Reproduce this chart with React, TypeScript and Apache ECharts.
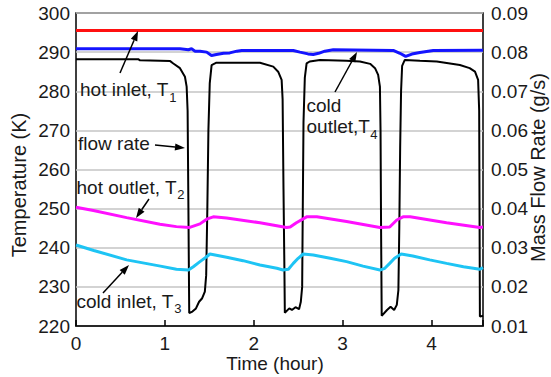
import React, { useEffect, useRef } from "react";
import * as echarts from "echarts";

// Time (hour), value pairs
const hotInletT1: [number, number][] = [[0, 295.5], [4.58, 295.5]];

const coldOutletT4: [number, number][] = [
  [0, 290.85], [1.17, 290.85], [1.265, 290.6], [1.3, 290.85], [1.34, 290.25], [1.395, 290.25],
  [1.47, 290.0], [1.525, 289.15], [1.58, 289.4], [1.66, 289.7], [1.73, 289.8], [1.81, 290.25],
  [1.865, 290.43], [2.445, 290.43], [2.52, 290.0], [2.61, 289.55], [2.67, 289.4], [2.73, 289.7],
  [2.8, 290.25], [2.895, 290.6], [3.57, 290.43], [3.645, 289.7], [3.71, 288.9], [3.78, 289.5],
  [3.87, 289.9], [4.02, 290.4], [4.58, 290.5],
];

const hotOutletT2: [number, number][] = [
  [0, 250.35], [0.195, 249.5], [0.57, 247.7], [0.945, 246.0], [1.13, 245.4], [1.28, 245.2],
  [1.395, 246.1], [1.47, 247.3], [1.545, 247.9], [1.695, 247.6], [2.07, 246.4], [2.37, 245.2],
  [2.41, 245.3], [2.48, 246.4], [2.595, 247.9], [2.71, 247.9], [3.045, 246.7], [3.42, 245.2],
  [3.53, 245.3], [3.61, 247.1], [3.68, 247.9], [3.76, 247.9], [4.17, 246.4], [4.545, 245.2],
  [4.58, 245.3],
];

const coldInletT3: [number, number][] = [
  [0, 240.7], [0.2, 239.3], [0.57, 236.9], [0.95, 235.3], [1.13, 234.5], [1.265, 234.3],
  [1.32, 235.15], [1.395, 236.45], [1.47, 237.7], [1.507, 238.4], [1.695, 237.55], [1.88, 236.7],
  [2.07, 235.6], [2.26, 234.75], [2.33, 234.3], [2.39, 234.5], [2.445, 236.0], [2.5, 237.3],
  [2.557, 238.4], [2.67, 238.15], [2.86, 237.3], [3.045, 236.45], [3.23, 235.3], [3.42, 234.3],
  [3.475, 234.75], [3.53, 236.0], [3.585, 237.3], [3.66, 238.4], [3.79, 237.9], [3.98, 236.9],
  [4.17, 236.0], [4.36, 235.15], [4.545, 234.5], [4.58, 234.9],
];

const flowRate: [number, number][] = [
  [0, 0.0782], [0.7, 0.0782], [0.72, 0.0779], [1.06, 0.0777], [1.095, 0.0771], [1.17, 0.0759],
  [1.226, 0.0737], [1.245, 0.0712], [1.256, 0.065], [1.265, 0.04], [1.274, 0.0133],
  [1.31, 0.0137], [1.35, 0.0145], [1.385, 0.0162], [1.42, 0.0171], [1.45, 0.0188], [1.465, 0.023],
  [1.478, 0.04], [1.49, 0.06], [1.505, 0.072], [1.526, 0.0767], [1.58, 0.0773], [2.07, 0.0773],
  [2.22, 0.0763], [2.275, 0.075], [2.314, 0.0729], [2.325, 0.068], [2.335, 0.045], [2.345, 0.025],
  [2.35, 0.0134],
  [2.4, 0.0145], [2.43, 0.0141], [2.47, 0.0148], [2.51, 0.0143], [2.53, 0.0162], [2.545, 0.02],
  [2.552, 0.04], [2.56, 0.062], [2.575, 0.0735], [2.595, 0.0771], [2.63, 0.0776], [2.745, 0.078],
  [3.045, 0.0778], [3.195, 0.0776], [3.31, 0.077], [3.365, 0.0759], [3.4, 0.0742], [3.42, 0.0712],
  [3.427, 0.06], [3.433, 0.035], [3.44, 0.0126],
  [3.5, 0.0141], [3.54, 0.0149], [3.58, 0.0141], [3.61, 0.0154], [3.628, 0.0192], [3.638, 0.035],
  [3.648, 0.056], [3.658, 0.07], [3.67, 0.0765], [3.7, 0.078], [3.87, 0.0778], [4.06, 0.0776],
  [4.32, 0.0767], [4.43, 0.0759], [4.49, 0.075], [4.525, 0.0729], [4.537, 0.065], [4.541, 0.04],
  [4.545, 0.0124], [4.58, 0.0126],
];

const xTicks = [0, 1, 2, 3, 4];

const FONT = 'Arial, "Liberation Sans", Helvetica, sans-serif';
const TXT = "#1a1a1a";

function measure(text: string, size: number): number {
  try {
    const c = document.createElement("canvas").getContext("2d");
    if (c) {
      c.font = `${size}px ${FONT}`;
      return c.measureText(text).width;
    }
  } catch (e) {}
  return text.length * size * 0.5;
}

function arrow(x1: number, y1: number, x2: number, y2: number): any[] {
  const dx = x2 - x1;
  const dy = y2 - y1;
  const len = Math.sqrt(dx * dx + dy * dy);
  const ux = dx / len;
  const uy = dy / len;
  const hl = 10;
  const hw = 3.5;
  const bx = x2 - ux * hl;
  const by = y2 - uy * hl;
  return [
    {
      type: "line",
      shape: { x1, y1, x2: bx, y2: by },
      style: { stroke: "#000", lineWidth: 1.5 },
      z: 100,
    },
    {
      type: "polygon",
      shape: {
        points: [
          [x2, y2],
          [bx - uy * hw, by + ux * hw],
          [bx + uy * hw, by - ux * hw],
        ],
      },
      style: { fill: "#000" },
      z: 100,
    },
  ];
}

function label(text: string, x: number, y: number, size = 19): any {
  return {
    type: "text",
    x,
    y,
    z: 100,
    style: {
      text,
      fill: TXT,
      font: `${size}px ${FONT}`,
      textAlign: "left",
      textVerticalAlign: "middle",
    },
  };
}

function subLabel(main: string, sub: string, x: number, y: number): any[] {
  const w = measure(main, 19);
  return [label(main, x, y), label(sub, x + w + 0.5, y + 7.5, 13)];
}

export default function App() {
  const ref = useRef<HTMLDivElement>(null);

  useEffect(() => {
    if (!ref.current) return;
    const chart = echarts.init(ref.current, undefined, { renderer: "svg" });
    const line = (name: string, data: [number, number][], color: string, width: number, yIdx = 0, z = 2) => ({
      name,
      type: "line",
      data,
      yAxisIndex: yIdx,
      symbol: "none",
      showSymbol: false,
      z,
      lineStyle: { color, width },
      itemStyle: { color },
    });
    chart.setOption({
      animation: false,
      backgroundColor: "#fff",
      grid: {
        left: 76,
        right: 68,
        top: 13,
        bottom: 51,
        show: true,
        borderColor: "#000",
        borderWidth: 1.5,
        backgroundColor: "transparent",
        containLabel: false,
      },
      xAxis: {
        type: "value",
        min: 0,
        max: 4.58,
        interval: 1,
        axisLine: { show: true, lineStyle: { color: "#000", width: 1.5 } },
        axisTick: { show: true, inside: true, length: 6, lineStyle: { color: "#000", width: 1.5 } },
        splitLine: { show: false },
        axisLabel: {
          fontSize: 19,
          fontFamily: FONT,
          color: TXT,
          margin: 8,
          formatter: (v: number) => (xTicks.includes(v) ? String(v) : ""),
        },
      },
      yAxis: [
        {
          type: "value",
          min: 220,
          max: 300,
          interval: 10,
          axisLine: { show: false },
          axisTick: { show: false },
          splitLine: { show: true, lineStyle: { color: "#c4c4c4", width: 1.5 } },
          axisLabel: { fontSize: 19, fontFamily: FONT, color: TXT, margin: 6 },
        },
        {
          type: "value",
          position: "right",
          min: 0.01,
          max: 0.09,
          interval: 0.01,
          axisLine: { show: false },
          axisTick: { show: false },
          splitLine: { show: false },
          axisLabel: {
            fontSize: 19,
            fontFamily: FONT,
            color: TXT,
            margin: 8,
            formatter: (v: number) => v.toFixed(2),
          },
        },
      ],
      series: [
        line("flow rate", flowRate, "#000000", 2, 1, 2),
        line("hot inlet, T1", hotInletT1, "#ff1010", 3, 0, 3),
        line("cold outlet, T4", coldOutletT4, "#1414ff", 3, 0, 3),
        line("hot outlet, T2", hotOutletT2, "#ff10ff", 3, 0, 3),
        line("cold inlet, T3", coldInletT3, "#1ec4f4", 3, 0, 3),
      ],
      graphic: [
        {
          type: "text",
          x: 275,
          y: 363.5,
          style: {
            text: "Time (hour)",
            fill: TXT,
            font: `19px ${FONT}`,
            textAlign: "center",
            textVerticalAlign: "middle",
          },
        },
        {
          type: "text",
          x: 19,
          y: 185,
          rotation: Math.PI / 2,
          style: {
            text: "Temperature (K)",
            fill: TXT,
            font: `20px ${FONT}`,
            textAlign: "center",
            textVerticalAlign: "middle",
          },
        },
        {
          type: "text",
          x: 538,
          y: 167.5,
          rotation: Math.PI / 2,
          style: {
            text: "Mass Flow Rate (g/s)",
            fill: TXT,
            font: `20px ${FONT}`,
            textAlign: "center",
            textVerticalAlign: "middle",
          },
        },
        ...subLabel("hot inlet, T", "1", 80, 89.5),
        label("cold", 306.5, 105),
        ...subLabel("outlet,T", "4", 306.5, 126.5),
        label("flow rate", 78, 143.5),
        ...subLabel("hot outlet, T", "2", 76.5, 187),
        ...subLabel("cold inlet, T", "3", 76.5, 301),
        ...arrow(120, 73, 138, 31),
        ...arrow(335, 92, 357, 52),
        ...arrow(155, 145, 185, 148),
        ...arrow(149, 199, 136, 218),
        ...arrow(103, 293, 129, 265),
      ],
    });
    return () => chart.dispose();
  }, []);

  return <div ref={ref} style={{ width: 551, height: 377, position: "absolute", left: 0, top: 0 }} />;
}
